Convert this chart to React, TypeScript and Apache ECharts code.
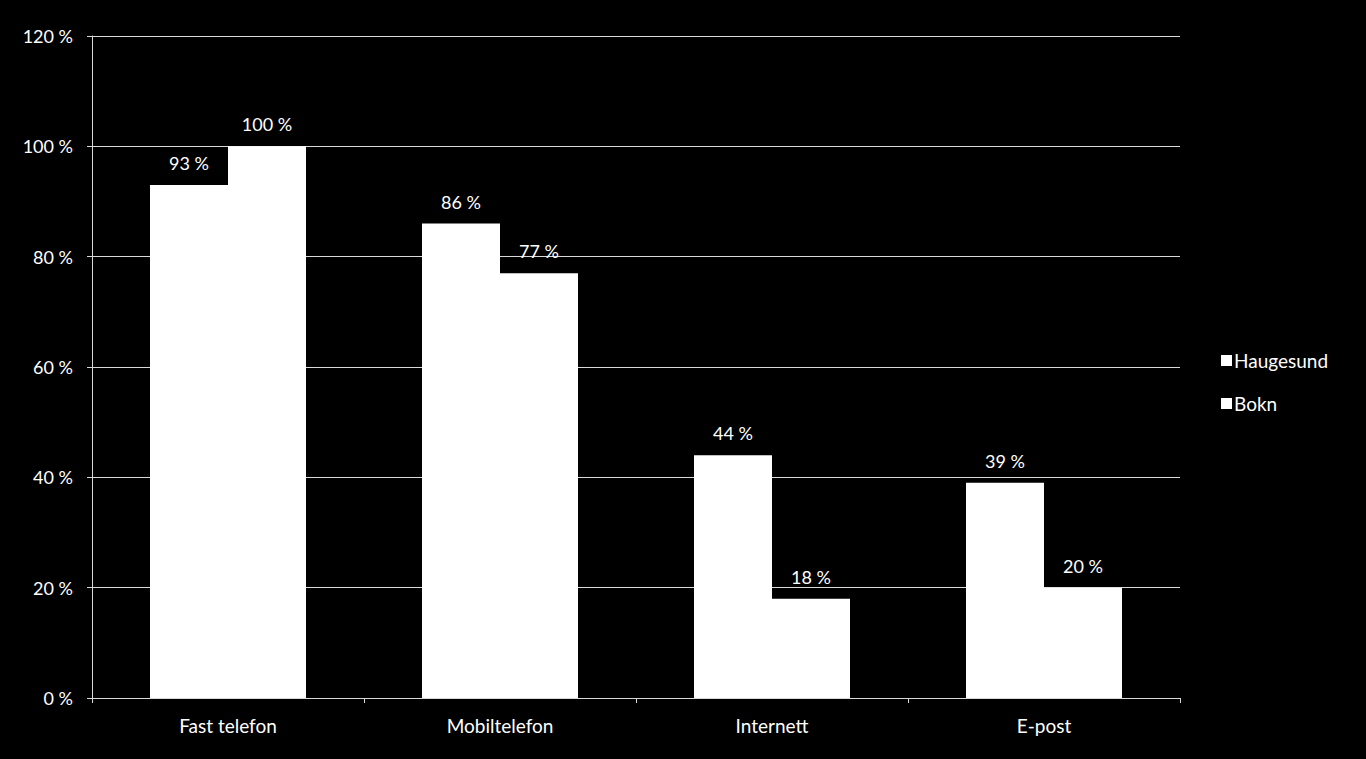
import React, { useEffect, useRef } from "react";
import * as echarts from "echarts";

const categories = ["Fast telefon", "Mobiltelefon", "Internett", "E-post"];
const haugesund = [93, 86, 44, 39];
const bokn = [100, 77, 18, 20];
const seriesNames = ["Haugesund", "Bokn"];

const FONT = "Lato, 'Open Sans', sans-serif";

export default function App() {
  const ref = useRef<HTMLDivElement>(null);
  useEffect(() => {
    if (!ref.current) return;
    const chart = echarts.init(ref.current, undefined, { renderer: "svg" });
    const label = {
      show: true,
      position: "top" as const,
      distance: 13,
      color: "#ffffff",
      fontSize: 18,
      fontFamily: FONT,
      formatter: (p: any) => `${p.value} %`,
    };
    chart.setOption({
      animation: false,
      backgroundColor: "#000000",
      grid: { left: 92, right: 186, top: 36, bottom: 61, containLabel: false },
      legend: {
        orient: "vertical",
        left: 1216,
        top: 346,
        itemWidth: 11,
        itemHeight: 11,
        itemGap: 24,
        icon: "rect",
        textStyle: { color: "#ffffff", fontSize: 19, fontFamily: FONT, padding: [0, 0, 0, -3] },
        data: seriesNames,
      },
      xAxis: {
        type: "category",
        data: categories,
        axisLine: { show: true, lineStyle: { color: "#d9d9d9", width: 1 } },
        axisTick: { show: true, length: 5, lineStyle: { color: "#d9d9d9" } },
        axisLabel: { color: "#ffffff", fontSize: 19, fontFamily: FONT, margin: 18 },
      },
      yAxis: {
        type: "value",
        min: 0,
        max: 120,
        interval: 20,
        axisLine: { show: true, lineStyle: { color: "#d9d9d9", width: 1 } },
        axisTick: { show: true, length: 5, lineStyle: { color: "#d9d9d9" } },
        splitLine: { show: true, lineStyle: { color: "#d9d9d9", width: 1 } },
        axisLabel: {
          color: "#ffffff",
          fontSize: 18,
          fontFamily: FONT,
          margin: 19,
          formatter: (v: number) => `${v} %`,
        },
      },
      series: [
        {
          name: seriesNames[0],
          type: "bar",
          data: haugesund,
          barWidth: 78,
          barGap: "0%",
          itemStyle: { color: "#ffffff" },
          label,
        },
        {
          name: seriesNames[1],
          type: "bar",
          data: bokn,
          barWidth: 78,
          barGap: "0%",
          itemStyle: { color: "#ffffff" },
          label,
        },
      ],
    });
    return () => chart.dispose();
  }, []);
  return <div ref={ref} style={{ width: 1366, height: 759, position: "absolute", left: 0, top: 0 }} />;
}
